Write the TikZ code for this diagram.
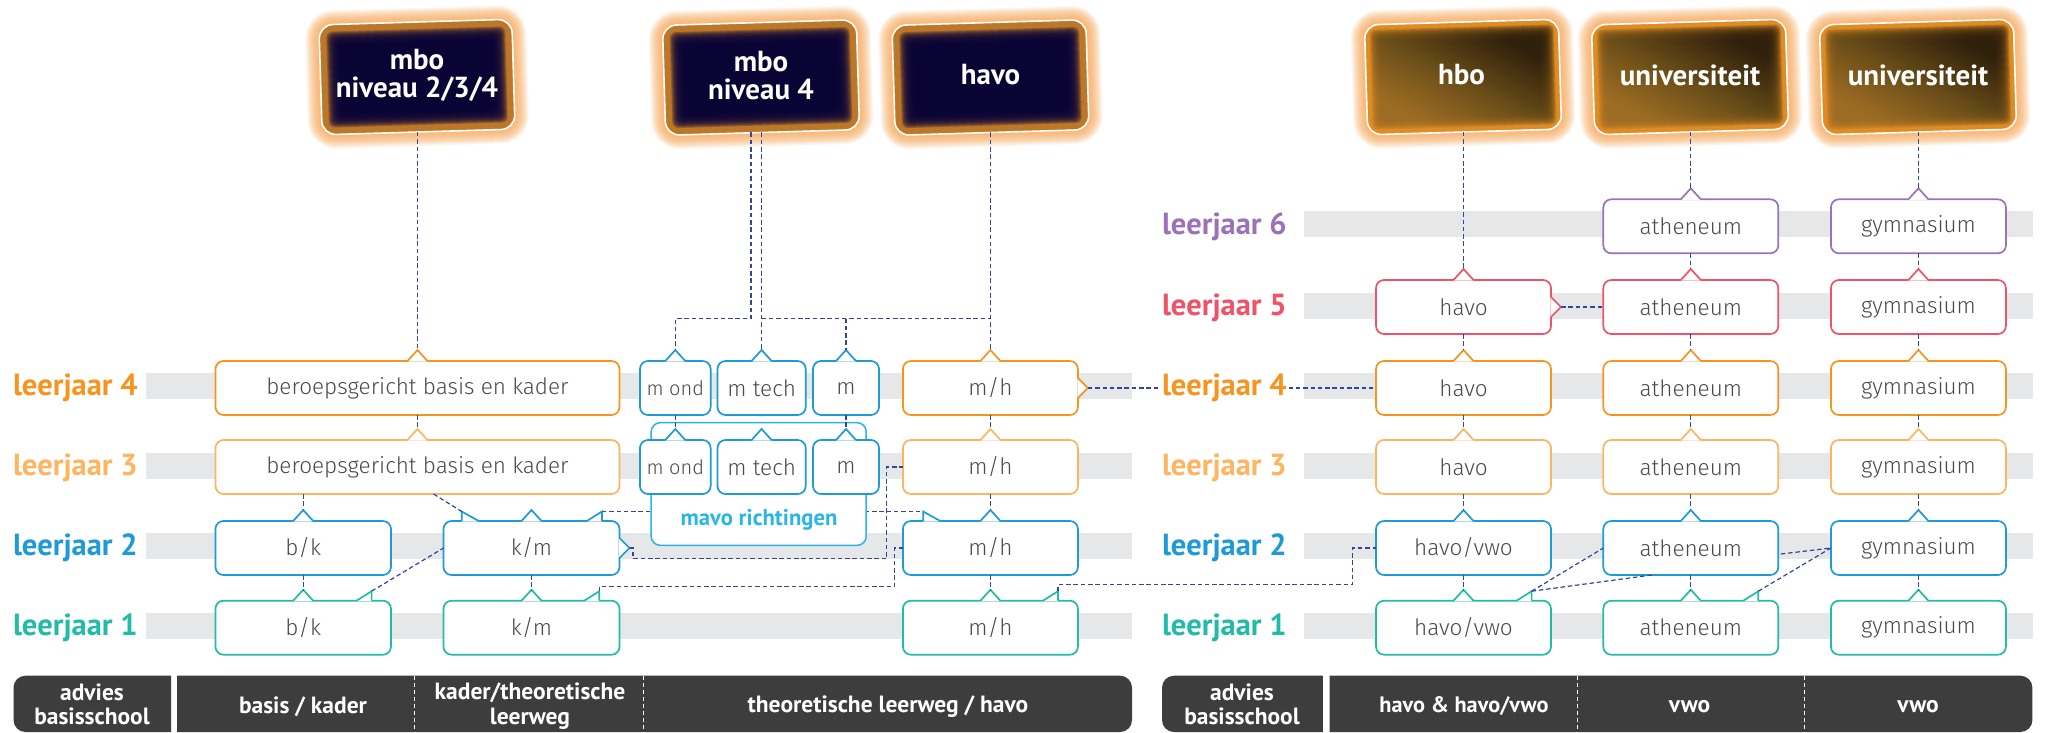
\documentclass[tikz,border=0pt]{standalone}
\usepackage{fontspec}
\setmainfont{PT Sans}
\newfontfamily\bfam{PT Sans Bold}
\newfontfamily\lfam{Fira Sans Light}
\usetikzlibrary{calc}
\definecolor{teal1}{HTML}{22BBA6}
\definecolor{blue2}{HTML}{1E9AD6}
\definecolor{sand3}{HTML}{FDB562}
\definecolor{oran4}{HTML}{F7941E}
\definecolor{red5}{HTML}{F05368}
\definecolor{purp6}{HTML}{9B72B8}
\definecolor{sky}{HTML}{29B5E8}
\definecolor{barg}{HTML}{E6E7E8}
\definecolor{navy}{HTML}{34459B}
\definecolor{dk}{HTML}{3D3D3D}
\definecolor{txt}{HTML}{4A4A4A}
\definecolor{glow}{HTML}{F9A24B}
\pgfdeclarelayer{bars}
\pgfdeclarelayer{under}
\pgfdeclarelayer{box}
\pgfsetlayers{bars,under,box,main}
\tikzset{
  bub/.style={rectangle,rounded corners=8pt,line width=1.7pt,fill=white,minimum height=54pt,inner sep=0pt,outer sep=0pt,text=txt,font=\lfam\fontsize{22.5}{24}\selectfont},
  conn/.style={draw=navy,line width=1.2pt,dash pattern=on 4.5pt off 2.8pt},
  bartop/.style={fill=barg},
  rowlab/.style={font=\bfam\fontsize{30.5}{32}\selectfont,inner sep=0pt,outer sep=0pt},
  foot/.style={text=white,align=center,inner sep=0pt,font=\bfam\fontsize{23.5}{24.5}\selectfont},
  sep/.style={draw=white,line width=1pt,dash pattern=on 4pt off 3pt},
  cardl/.style={rectangle,rotate=1.7,inner sep=0pt,outer sep=0pt},
  cardtxt/.style={text=white,align=center,inner sep=0pt,font=\bfam\fontsize{29}{28}\selectfont}
}
% bubble: name, cx, cy, width, colour, text
\newcommand\bubble[6]{\node[bub,draw=#5,minimum width=#4pt] (#1) at (#2,#3) {#6};}
% top tip
\newcommand\ttip[2]{%
  \coordinate (#1-t) at ($(#1.north)+(0,-11)$);
  \fill[white] ($(#1.north)+(-10,0.6)$) -- (#1-t) -- ($(#1.north)+(10,0.6)$) -- cycle;
  \draw[#2,line width=1.7pt,line join=miter] ($(#1.north)+(-10,0)$) -- (#1-t) -- ($(#1.north)+(10,0)$);}
% slanted flag, vertical side on the right
\newcommand\flagr[3]{%
  \coordinate (#1-f) at ($(#2,0 |- #1.north)+(0,-9.5)$);
  \fill[white] ($(#2,0 |- #1.north)+(-15,0.6)$) -- (#1-f) -- ($(#2,0 |- #1.north)+(0,0.6)$) -- cycle;
  \draw[#3,line width=1.7pt,line join=miter] ($(#2,0 |- #1.north)+(-15,0)$) -- (#1-f) -- (#2,0 |- #1.north);}
% slanted flag, vertical side on the left
\newcommand\flagl[3]{%
  \coordinate (#1-g) at ($(#2,0 |- #1.north)+(0,-9.5)$);
  \fill[white] ($(#2,0 |- #1.north)+(17,0.6)$) -- (#1-g) -- ($(#2,0 |- #1.north)+(0,0.6)$) -- cycle;
  \draw[#3,line width=1.7pt,line join=miter] ($(#2,0 |- #1.north)+(17,0)$) -- (#1-g) -- (#2,0 |- #1.north);}
% tip on the right side
\newcommand\rtip[2]{%
  \coordinate (#1-r) at ($(#1.east)+(10,0)$);
  \fill[white] ($(#1.east)+(-0.6,-10)$) -- (#1-r) -- ($(#1.east)+(-0.6,10)$) -- cycle;
  \draw[#2,line width=1.7pt,line join=miter] ($(#1.east)+(0,-10)$) -- (#1-r) -- ($(#1.east)+(0,10)$);}
% card glow
\newcommand\glowbase[4]{%
  \foreach \i in {14,13,...,1}{%
    \fill[glow,opacity=.09,rotate around={1.7:(#1,#2)},rounded corners={(14+\i)*1pt}]
      ({#1-#3/2-\i},{#2-#4/2-\i}) rectangle ({#1+#3/2+\i},{#2+#4/2+\i});}}
\newcommand\darkcore[4]{%
  \fill[rotate around={1.7:(#1,#2)},rounded corners=14pt,fill=B]
      ({#1-#3/2},{#2-#4/2}) rectangle ({#1+#3/2},{#2+#4/2});
  \foreach \i in {7,8,...,21}{%
    \fill[rotate around={1.7:(#1,#2)},rounded corners=6pt,fill=K,opacity=.25]
      ({#1-#3/2+\i},{#2-#4/2+\i}) rectangle ({#1+#3/2-\i},{#2+#4/2-\i});}}
\newcommand\browncore[4]{%
  \fill[rotate around={1.7:(#1,#2)},rounded corners=14pt,fill=O]
      ({#1-#3/2},{#2-#4/2}) rectangle ({#1+#3/2},{#2+#4/2});
  \foreach \i in {5,6,...,21}{%
    \shade[rotate around={1.7:(#1,#2)},rounded corners=6pt,opacity=.22,top color=U1,bottom color=U2,middle color=U3,shading angle=-28]
      ({#1-#3/2+\i},{#2-#4/2+\i}) rectangle ({#1+#3/2-\i},{#2+#4/2-\i});}}
\definecolor{B}{HTML}{BC7729}
\definecolor{K}{HTML}{0A0438}
\definecolor{O}{HTML}{E08C24}
\definecolor{U1}{HTML}{2E200C}
\definecolor{U2}{HTML}{9B6C25}
\definecolor{U3}{HTML}{654A17}
\newcommand\card[6]{% name,cx,cy,w,h,type
  \begin{pgfonlayer}{under}\glowbase{#2}{#3}{#4}{#5}\end{pgfonlayer}
  \csname #6core\endcsname{#2}{#3}{#4}{#5}
  \node[cardl,draw=white,line width=1.6pt,rounded corners=14pt,minimum width=#4pt,minimum height=#5pt] (#1) at (#2,#3) {};}
\begin{document}
\begin{tikzpicture}[x=1pt,y=-1pt]
\useasboundingbox (0,0) rectangle (2047,732);
\begin{pgfonlayer}{bars}
\fill[white] (0,0) rectangle (2047,732);
\foreach \y in {385.7,465.7,545.7,626.3}{\fill[bartop] (146,\y-13) rectangle (1132,\y+13);}
\foreach \y in {224.4,305.7,385.7,465.7,545.7,626.3}{\fill[bartop] (1304,\y-13) rectangle (2033,\y+13);}
\end{pgfonlayer}

% cards
\card{c1}{417}{77}{193}{110}{dark}
\card{c2}{761}{77.5}{194}{110}{dark}
\card{c3}{990.5}{77.5}{194}{110}{dark}
\card{c4}{1463}{77}{194}{110}{brown}
\card{c5}{1690}{77}{194}{110}{brown}
\card{c6}{1918}{77}{194}{110}{brown}
\node[cardtxt] (c1l) at (417,75) {mbo\\niveau 2/3/4};
\node[cardtxt] (c2l) at (761,75.5) {mbo\\niveau 4};
\node[cardtxt] (c3l) at (990.5,75) {havo};
\node[cardtxt] (c4l) at (1461.5,75) {hbo};
\node[cardtxt] (c5l) at (1690,75) {universiteit};
\node[cardtxt] (c6l) at (1918,75) {universiteit};

% mavo frame
\begin{pgfonlayer}{box}
\node[rectangle,draw=sky,line width=1.5pt,fill=white,rounded corners=9pt,minimum width=215pt,minimum height=122.6pt,outer sep=0pt] (mavo) at (758.7,484) {};
\node[text=sky,font=\bfam\fontsize{22.7}{24}\selectfont,inner sep=0pt] (mavol) at (759,520) {mavo richtingen};
\end{pgfonlayer}

% row labels
\foreach \nm/\x/\y/\c/\n in {l1a/13/628/teal1/1,l2a/13/548/blue2/2,l3a/13/468/sand3/3,l4a/13/388/oran4/4,
   l1b/1162/628/teal1/1,l2b/1162/548/blue2/2,l3b/1162/468/sand3/3,l4b/1162/388/oran4/4,l5b/1162/307.5/red5/5,l6b/1162/226.5/purp6/6}
  {\node[rowlab,anchor=west,text=\c] (\nm) at (\x,\y) {leerjaar \n};}

% left column bubbles
\bubble{ber4}{417.5}{388}{404}{oran4}{beroepsgericht basis en kader}
\bubble{ber3}{417.5}{467}{404}{sand3}{beroepsgericht basis en kader}
\bubble{bk2}{303.2}{548}{175.5}{blue2}{b/k}
\bubble{km2}{531.5}{548}{176}{blue2}{k/m}
\bubble{bk1}{303.2}{627.7}{175.5}{teal1}{b/k}
\bubble{km1}{531.5}{627.7}{176}{teal1}{k/m}
\bubble{mo4}{675.3}{388}{70.7}{blue2}{\fontsize{20}{24}\selectfont m ond}
\bubble{mt4}{761.6}{388}{88.2}{blue2}{m tech}
\bubble{m4}{846}{388}{66}{blue2}{m}
\bubble{mo3}{675.3}{467}{70.7}{blue2}{\fontsize{20}{24}\selectfont m ond}
\bubble{mt3}{761.6}{467}{88.2}{blue2}{m tech}
\bubble{m3}{846}{467}{66}{blue2}{m}
\bubble{mh4}{990.4}{388}{175}{oran4}{m/h}
\bubble{mh3}{990.4}{467}{175}{sand3}{m/h}
\bubble{mh2}{990.4}{548}{175}{blue2}{m/h}
\bubble{mh1}{990.4}{627.7}{175}{teal1}{m/h}
% right columns
\bubble{hv5}{1463.5}{307}{175}{red5}{havo}
\bubble{hv4}{1463.5}{388}{175}{oran4}{havo}
\bubble{hv3}{1463.5}{467}{175}{sand3}{havo}
\bubble{hv2}{1463.5}{548}{175}{blue2}{havo/vwo}
\bubble{hv1}{1463.5}{627.7}{175}{teal1}{havo/vwo}
\foreach \s/\y/\c in {6/226.3/purp6,5/307/red5,4/388/oran4,3/467/sand3,2/548/blue2,1/627.7/teal1}{%
  \bubble{at\s}{1690.8}{\y}{175}{\c}{atheneum}
  \bubble{gy\s}{1918.4}{\y}{175}{\c}{gymnasium}
}
% tips
\foreach \n/\c in {ber4/oran4,ber3/sand3,bk2/blue2,km2/blue2,bk1/teal1,km1/teal1,mo4/blue2,mt4/blue2,m4/blue2,mo3/blue2,mt3/blue2,m3/blue2,mh4/oran4,mh3/sand3,mh2/blue2,mh1/teal1,
  hv5/red5,hv4/oran4,hv3/sand3,hv2/blue2,hv1/teal1,at6/purp6,at5/red5,at4/oran4,at3/sand3,at2/blue2,at1/teal1,gy6/purp6,gy5/red5,gy4/oran4,gy3/sand3,gy2/blue2,gy1/teal1}{%
  \ttip{\n}{\c}}
\flagr{bk1}{371.6}{teal1}
\flagr{km1}{599.3}{teal1}
\flagr{mh1}{1058}{teal1}
\flagr{hv1}{1531.6}{teal1}
\flagr{at1}{1758.3}{teal1}
\flagr{km2}{601.9}{blue2}
\flagl{km2}{461.7}{blue2}
\flagl{mh2}{923.2}{blue2}
\rtip{km2}{blue2}
\rtip{mh4}{oran4}
\rtip{hv5}{red5}

\coordinate (j1) at (751,318.5);
\coordinate (j2) at (886.8,558.7);
\coordinate (j3) at (633,558.7);
\coordinate (j4) at (894.6,586.5);
\coordinate (j5) at (1352.8,584.7);

% connectors
\draw[conn] (ber4-t |- c1.south) -- (ber4-t);
\draw[conn] (j1 |- c2.south) -- (j1) -| (mo4-t);
\draw[conn] (mt4-t |- c2.south) -- (mt4-t);
\draw[conn] (mh4-t |- c3.south) -- (mh4-t);
\draw[conn] (mt4-t |- j1) -- (mh4-t |- j1);
\draw[conn] (m4-t |- j1) -- (m4-t);
\draw[conn] (hv5-t |- c4.south) -- (hv5-t);
\draw[conn] (at6-t |- c5.south) -- (at6-t);
\draw[conn] (gy6-t |- c6.south) -- (gy6-t);
\foreach \a/\b in {ber4/ber3,ber3/bk2,bk2/bk1,km2/km1,mo4/mo3,m4/m3,mh4/mh3,mh3/mh2,mh2/mh1,
   hv5/hv4,hv4/hv3,hv3/hv2,hv2/hv1,at6/at5,at5/at4,at4/at3,at3/at2,at2/at1,gy6/gy5,gy5/gy4,gy4/gy3,gy3/gy2,gy2/gy1}{%
  \draw[conn] (\b-t |- \a.south) -- (\b-t);}
\draw[conn] (mh4-r) -- ($(l4b.west)+(-2,0)$);
\draw[conn] ($(l4b.east)+(2,0)$) -- (hv4.west);
\draw[conn] (hv5-r) -- (at5.west);
\draw[conn] (433.5,494) -- (km2-g);
\draw[conn] (bk1-f) -- (km2.west);
\begin{pgfonlayer}{under}
\draw[conn] (km2-f) -- (mh2-g);
\end{pgfonlayer}
\draw[conn] (km2-r) -- (j3 |- km2-r) -- (j3) -- (j2) -- (j2 |- mh3.west) -- (mh3.west);
\draw[conn] (km1-f) |- (j4) -- (j4 |- mh2.west) -- (mh2.west);
\draw[conn] (mh1-f) |- (j5) -- (j5 |- hv2.west) -- (hv2.west);
\draw[conn] (hv1-f) -- (at2.west);
\draw[conn] (hv1-f) -- (1652,575);
\draw[conn] (at1-f) -- (gy2.west);
\draw[conn] (1780.8,554) -- (gy2.west);

% footer
\fill[dk] (171,675.7) -- (171,732) -- (100,732) [rounded corners=12pt] -- (13.5,732) -- (13.5,675.7) -- (100,675.7) [sharp corners] -- cycle;
\fill[dk] (177,675.7) -- (1100,675.7) [rounded corners=12pt] -- (1132,675.7) -- (1132,732) -- (1100,732) [sharp corners] -- (177,732) -- cycle;
\fill[dk] (1322.8,675.7) -- (1322.8,732) -- (1250,732) [rounded corners=12pt] -- (1162,732) -- (1162,675.7) -- (1250,675.7) [sharp corners] -- cycle;
\fill[dk] (1329.7,675.7) -- (2000,675.7) [rounded corners=12pt] -- (2032.4,675.7) -- (2032.4,732) -- (2000,732) [sharp corners] -- (1329.7,732) -- cycle;
\foreach \x in {414.6,643.5,1577,1804.5}{\draw[sep] (\x,675.7) -- (\x,732);}
\node[foot] (f1) at (92,704.5) {advies\\basisschool};
\node[foot] (f2) at (303,706.5) {basis / kader};
\node[foot] (f3) at (530,706) {kader/theoretische\\leerweg};
\node[foot] (f4) at (888,706.5) {theoretische leerweg / havo};
\node[foot] (f5) at (1242,704.5) {advies\\basisschool};
\node[foot,font=\bfam\fontsize{22.3}{24.5}\selectfont] (f6) at (1464,706.5) {havo \& havo/vwo};
\node[foot] (f7) at (1689.5,706.5) {vwo};
\node[foot] (f8) at (1918,706.5) {vwo};
\end{tikzpicture}
\end{document}
